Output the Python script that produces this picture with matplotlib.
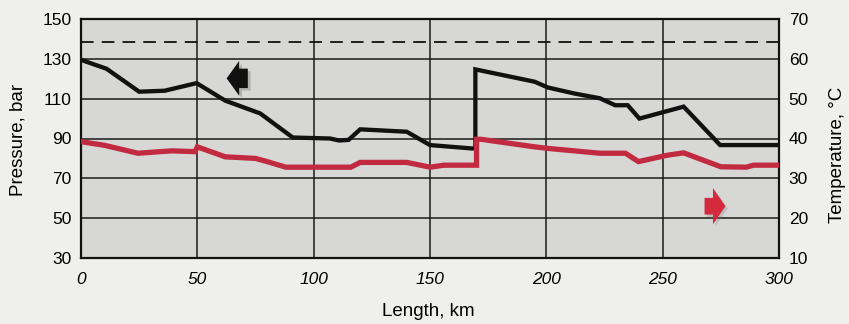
import matplotlib.pyplot as plt

plt.rcParams['font.family'] = ['Liberation Sans', 'DejaVu Sans']

# pressure profile along the line (left axis, bar)
length_p = [0, 11, 25, 36, 49.7, 62, 77, 91, 107, 111, 115, 120, 140, 150, 168,
            169.5, 169.5, 195, 200.7, 212, 223, 229.6, 235, 240, 259, 274.7, 300]
pressure = [129.5, 125, 113.5, 114, 117.8, 109, 102.6, 90.5, 90, 89, 89.3, 94.6, 93.4, 86.7, 85,
            85, 124.7, 118.5, 115.6, 112.6, 110.2, 106.7, 106.7, 100, 106, 86.7, 86.7]

# temperature profile (right axis, deg C)
length_t = [0, 10, 24.5, 39, 49, 50, 62, 75, 80, 88, 116, 120, 140, 150, 156,
            170, 170, 172, 195, 201, 223, 234, 239.6, 252, 259, 275, 286, 289, 300]
temperature = [39.2, 38.3, 36.3, 36.9, 36.7, 37.9, 35.4, 35.0, 34.2, 32.8, 32.8, 34.0, 34.0, 32.8, 33.3,
               33.3, 39.8, 39.8, 37.9, 37.5, 36.3, 36.3, 34.2, 35.8, 36.4, 32.9, 32.8, 33.3, 33.3]

max_pressure = 138.5

x_ticks = [0, 50, 100, 150, 200, 250, 300]
p_ticks = [30, 50, 70, 90, 110, 130, 150]
t_ticks = [10, 20, 30, 40, 50, 60, 70]

fig = plt.figure(figsize=(8.49, 3.24), dpi=100)
fig.patch.set_facecolor('#efefed')
ax = fig.add_axes([81/849, 66/324, 698/849, 239/324])
ax.set_facecolor('#d7d7d5')

ax.set_xlim(0, 300)
ax.set_ylim(30, 150)
ax.set_xticks(x_ticks)
ax.set_yticks(p_ticks)
ax.set_xticklabels([str(v) for v in x_ticks], fontstyle='italic')
ax.tick_params(length=0, labelsize=12.5, pad=7)
ax.tick_params(axis='x', pad=10)
ax.grid(color='#1a1a1a', lw=1.1)
ax.set_axisbelow(True)
for s in ax.spines.values():
    s.set_linewidth(1.6)
    s.set_color('#111111')

ax.axhline(max_pressure, color='#111111', lw=1.3, dashes=(7, 4.5))
ax.plot(length_p, pressure, color='#111111', lw=3.1, solid_joinstyle='miter')

ax2 = ax.twinx()
ax2.set_ylim(10, 70)
ax2.set_yticks(t_ticks)
ax2.tick_params(length=0, labelsize=12.5, pad=7)
for s in ax2.spines.values():
    s.set_visible(False)
ax2.plot(length_t, temperature, color='#c22a40', lw=3.8, solid_joinstyle='miter')

# direction arrows, with a soft shadow under each
style_b = 'simple,head_length=0.9,head_width=2.5,tail_width=1.4'
style_r = 'simple,head_length=0.9,head_width=2.6,tail_width=1.2'
ax.annotate('', xy=(63.8, 119.0), xytext=(72.9, 119.0),
            arrowprops=dict(arrowstyle=style_b, fc='#555555', ec='none', alpha=0.3,
                            shrinkA=0, shrinkB=0, mutation_scale=10))
ax.annotate('', xy=(62.6, 120.2), xytext=(71.7, 120.2),
            arrowprops=dict(arrowstyle=style_b, fc='#111111', ec='none',
                            shrinkA=0, shrinkB=0, mutation_scale=10))
ax2.annotate('', xy=(278, 22.4), xytext=(269, 22.4),
             arrowprops=dict(arrowstyle=style_r, fc='#777777', ec='none', alpha=0.25,
                             shrinkA=0, shrinkB=0, mutation_scale=10))
ax2.annotate('', xy=(277, 23), xytext=(268, 23),
             arrowprops=dict(arrowstyle=style_r, fc='#d42a3e', ec='none',
                             shrinkA=0, shrinkB=0, mutation_scale=10))

fig.text(18/849, 1 - 140/324, 'Pressure, bar', rotation=90, ha='center', va='center', fontsize=13.5)
fig.text(838/849, 1 - 155/324, 'Temperature, °C', rotation=90, ha='center', va='center', fontsize=13.5)
fig.text(428/849, 1 - 312/324, 'Length, km', ha='center', va='center', fontsize=13.5)

fig.savefig('out.png', dpi=100, facecolor=fig.get_facecolor())
